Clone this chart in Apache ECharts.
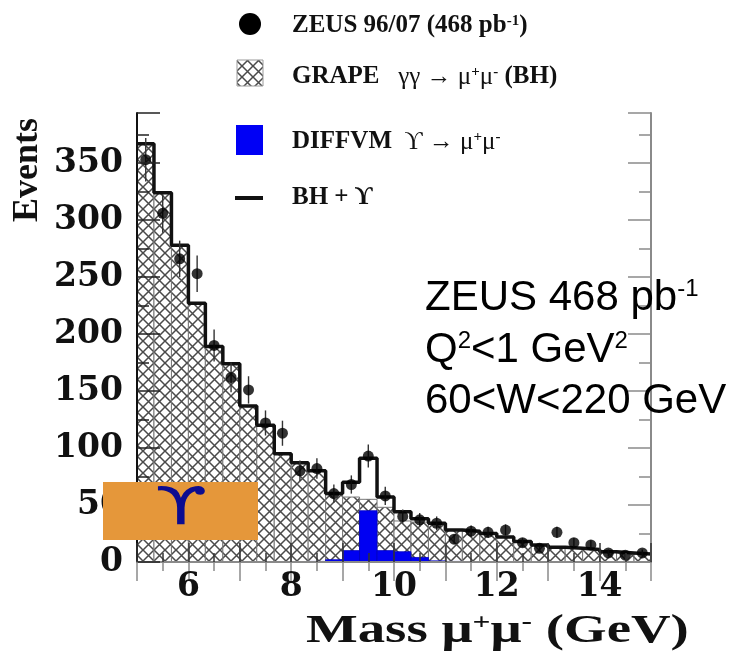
<!DOCTYPE html>
<html><head><meta charset="utf-8">
<script src="https://cdn.jsdelivr.net/npm/echarts@6/dist/echarts.min.js"></script>
<style>html,body{margin:0;padding:0;background:#fff}#c{width:733px;height:661px}</style>
</head><body><div id="c"></div><script>
// ---- data ----
const binEdges = [5.00,5.33,5.67,6.00,6.33,6.67,7.00,7.33,7.67,8.00,8.33,8.67,9.00,9.33,9.67,10.00,10.33,10.67,11.00,11.33,11.67,12.00,12.33,12.67,13.00,13.33,13.67,14.00,14.33,14.67,15.00];
const binCenters = [5.17,5.50,5.83,6.17,6.50,6.83,7.17,7.50,7.83,8.17,8.50,8.83,9.17,9.50,9.83,10.17,10.50,10.83,11.17,11.50,11.83,12.17,12.50,12.83,13.17,13.50,13.83,14.17,14.50,14.83];
const bhGrape   = [367,324,278,227,189,174,137,120,95,87,80,59,57,55,48,36,35,33,28,27,25,22,18,15,13,12,11,9,8,7];
const upsDiffvm = [0,0,0,0,0,0,0,0,0,0,0.5,2,10,45,10,9,4,1,0.5,0,0,0,0,0,0,0,0,0,0,0];
const bhPlusUps = [367,324,278,227,189,174,137,120,95,87,80,60,70,91,57,44,38,34,28,27,25,22,18,15,13,12,11,9,8,7];
const zeusData  = [353,306,266,253,190,162,151,122,113,80,82,60,68,93,58,40,37,34,20,27,26,28,17,12,26,17,15,8,6,8];
const zeusErr   = [19,17,16,16,14,13,12,11,11,9,9,8,8,10,8,6,6,6,4,5,5,5,4,3,5,4,4,3,2,3];
const xTickLabels = [6,8,10,12,14];
const yTickLabels = [0,50,100,150,200,250,300,350];

// ---- helpers ----
function makeHatch(){
  const s = 11, c = document.createElement('canvas');
  c.width = s; c.height = s;
  const g = c.getContext('2d');
  g.fillStyle = '#fff'; g.fillRect(0,0,s,s);
  g.strokeStyle = '#4a4a4a'; g.lineWidth = 1.5;
  g.beginPath();
  g.moveTo(-1,-1); g.lineTo(s+1,s+1);
  g.moveTo(s+1,-1); g.lineTo(-1,s+1);
  g.stroke();
  return c;
}
const hatchPattern = {image: makeHatch(), repeat: 'repeat'};

const hatchData = bhGrape.map((v,i)=>[binEdges[i], binEdges[i+1], v]);
const upsData = upsDiffvm.map((v,i)=>[binEdges[i], binEdges[i+1], v]);
const stepData = binEdges.map((e,i)=>[e, bhPlusUps[Math.min(i, bhPlusUps.length-1)]]);
const pointData = binCenters.map((x,i)=>[x, zeusData[i]]);
const errData = binCenters.map((x,i)=>[x, zeusData[i]-zeusErr[i], zeusData[i]+zeusErr[i]]);

function rectRenderer(style){
  return function(params, api){
    const lo = api.value(0), hi = api.value(1), v = api.value(2);
    if (!(v > 0)) return;
    const p0 = api.coord([lo, v]), p1 = api.coord([hi, 0]);
    return {type:'rect', shape:{x:p0[0], y:p0[1], width:p1[0]-p0[0], height:p1[1]-p0[1]}, style: Object.assign({}, style)};
  };
}

const serifB = 'Liberation Serif';
const axisCommon = {
  axisLine:{show:true, lineStyle:{color:'#111', width:2}},
  splitLine:{show:false},
  z: 10
};
const supRich = {fontSize:15, fontWeight:'bold', fontFamily:serifB, verticalAlign:'top', lineHeight:15};

const chart = echarts.init(document.getElementById('c'));
chart.setOption({
  animation:false,
  backgroundColor:'#fff',
  grid:{left:137, right:82, top:113, bottom:99, containLabel:false},
  xAxis:[
    Object.assign({}, axisCommon, {
      type:'value', min:5, max:15, interval:1, position:'bottom',
      axisTick:{show:true, inside:true, length:19, lineStyle:{color:'#333', width:1.5}},
      minorTick:{show:true, splitNumber:2, length:9, lineStyle:{color:'#333', width:1.5}},
      axisLabel:{formatter:v=>xTickLabels.includes(v)?String(v):'', fontFamily:'DejaVu Serif', fontWeight:'bold', fontSize:33, color:'#111', margin:9}
    }),
    Object.assign({}, axisCommon, {
      type:'value', min:5, max:15, interval:1, position:'top',
      axisLine:{show:true, lineStyle:{color:'#8a8a8a', width:2}},
      axisTick:{show:true, inside:true, length:19, lineStyle:{color:'#8a8a8a', width:1.5}},
      minorTick:{show:true, splitNumber:2, length:9, lineStyle:{color:'#8a8a8a', width:1.5}},
      axisLabel:{show:false}
    })
  ],
  yAxis:[
    Object.assign({}, axisCommon, {
      type:'value', min:0, max:394, interval:50, position:'left',
      axisTick:{show:true, inside:true, length:23, lineStyle:{color:'#222', width:1.5}},
      minorTick:{show:true, splitNumber:2, length:12, lineStyle:{color:'#222', width:1.5}},
      axisLabel:{formatter:v=>yTickLabels.includes(v)?String(v):'', fontFamily:'DejaVu Serif', fontWeight:'bold', fontSize:33, color:'#111', margin:14}
    }),
    Object.assign({}, axisCommon, {
      type:'value', min:0, max:394, interval:50, position:'right',
      axisLine:{show:true, lineStyle:{color:'#8a8a8a', width:2}},
      axisTick:{show:true, inside:true, length:23, lineStyle:{color:'#8a8a8a', width:1.5}},
      minorTick:{show:true, splitNumber:2, length:12, lineStyle:{color:'#8a8a8a', width:1.5}},
      axisLabel:{show:false}
    })
  ],
  series:[
    {name:'GRAPE γγ→μ+μ- (BH)', type:'custom', xAxisIndex:0, yAxisIndex:0, z:2,
     renderItem: rectRenderer({fill:hatchPattern, stroke:'#777', lineWidth:1}),
     encode:{x:[0,1], y:2}, data:hatchData},
    {name:'DIFFVM ϒ→μ+μ-', type:'custom', xAxisIndex:0, yAxisIndex:0, z:3,
     renderItem: rectRenderer({fill:'#0000f2', stroke:'#0000c0', lineWidth:0.8}),
     encode:{x:[0,1], y:2}, data:upsData},
    {name:'BH + ϒ', type:'line', step:'end', xAxisIndex:0, yAxisIndex:0, z:4,
     symbol:'none', lineStyle:{color:'#111', width:3.5}, data:stepData},
    {name:'ZEUS err', type:'custom', xAxisIndex:0, yAxisIndex:0, z:5,
     renderItem:function(params, api){
       const x = api.value(0);
       const a = api.coord([x, api.value(1)]), b = api.coord([x, api.value(2)]);
       return {type:'line', shape:{x1:a[0], y1:a[1], x2:b[0], y2:b[1]}, style:{stroke:'#333', lineWidth:1.4}};
     },
     encode:{x:0, y:[1,2]}, data:errData},
    {name:'ZEUS 96/07 (468 pb-1)', type:'scatter', xAxisIndex:0, yAxisIndex:0, z:6,
     symbol:'circle', symbolSize:11, itemStyle:{color:'#000'}, data:pointData}
  ],
  graphic:[
    // legend
    {type:'circle', z:100, shape:{cx:250, cy:24, r:11}, style:{fill:'#000'}},
    {type:'text', z:100, x:292, y:26, style:{text:'ZEUS 96/07 (468 pb{s|-1})', fontFamily:serifB, fontWeight:'bold', fontSize:25, fill:'#111', verticalAlign:'middle',
      rich:{s:supRich}}},
    {type:'rect', z:100, shape:{x:237, y:60, width:26, height:26}, style:{fill:hatchPattern, stroke:'#999', lineWidth:1}},
    {type:'text', z:100, x:292, y:77, style:{text:'GRAPE   {n|γγ → μ}{s|+}{n|μ}{s|-} (BH)', fontFamily:serifB, fontWeight:'bold', fontSize:25, fill:'#111', verticalAlign:'middle',
      rich:{n:{fontFamily:serifB, fontWeight:'normal', fontSize:25}, s:supRich}}},
    {type:'rect', z:100, shape:{x:236, y:125, width:27, height:30}, style:{fill:'#0000f5'}},
    {type:'text', z:100, x:292, y:142, style:{text:'DIFFVM  {n|ϒ → μ}{s|+}{n|μ}{s|-}', fontFamily:serifB, fontWeight:'bold', fontSize:25, fill:'#111', verticalAlign:'middle',
      rich:{n:{fontFamily:serifB, fontWeight:'normal', fontSize:25}, s:supRich}}},
    {type:'line', z:100, shape:{x1:235, y1:198, x2:263, y2:198}, style:{stroke:'#111', lineWidth:4}},
    {type:'text', z:100, x:292, y:198, style:{text:'BH + ϒ', fontFamily:serifB, fontWeight:'bold', fontSize:25, fill:'#111', verticalAlign:'middle'}},
    // annotation
    {type:'text', z:100, x:425, y:298, style:{text:'ZEUS 468 pb{s|-1}', fontFamily:'Liberation Sans', fontSize:42, fill:'#000', verticalAlign:'middle',
      rich:{s:{fontFamily:'Liberation Sans', fontSize:24, verticalAlign:'top', lineHeight:24}}}},
    {type:'text', z:100, x:425, y:350, style:{text:'Q{s|2}<1 GeV{s|2}', fontFamily:'Liberation Sans', fontSize:42, fill:'#000', verticalAlign:'middle',
      rich:{s:{fontFamily:'Liberation Sans', fontSize:24, verticalAlign:'top', lineHeight:24}}}},
    {type:'text', z:100, x:425, y:401, style:{text:'60<W<220 GeV', fontFamily:'Liberation Sans', fontSize:42, fill:'#000', verticalAlign:'middle'}},
    // axis names
    {type:'text', z:100, x:28, y:170, rotation:Math.PI/2, style:{text:'Events', fontFamily:serifB, fontWeight:'bold', fontSize:36, fill:'#111', align:'center', verticalAlign:'middle'}},
    {type:'text', z:100, x:306, y:632, scaleX:1.37, style:{text:'Mass μ{s|+}μ{s|-} (GeV)', fontFamily:serifB, fontWeight:'bold', fontSize:40, fill:'#111', verticalAlign:'middle',
      rich:{s:{fontSize:23, fontWeight:'bold', fontFamily:serifB, verticalAlign:'top', lineHeight:23}}}},
    // orange upsilon box
    {type:'rect', z:100, shape:{x:103, y:482, width:155, height:58}, style:{fill:'#e5973a'}},
    {type:'text', z:101, x:181, y:510, scaleX:1.45, style:{text:'ϒ', fontFamily:'DejaVu Sans', fontSize:52, fill:'#0c0c90', align:'center', verticalAlign:'middle'}}
  ]
});
</script></body></html>
